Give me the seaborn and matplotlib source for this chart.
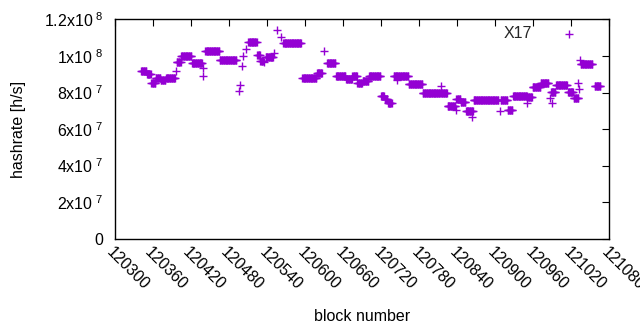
# hashrate per block for X17, gnuplot-style scatter redone in seaborn
import numpy as np
import pandas as pd
import matplotlib
matplotlib.use("Agg")
import matplotlib.pyplot as plt
import seaborn as sns

# ----------------------------------------------
# data (hashrate in 1e7 h/s)
# runs of consecutive blocks sharing one estimate
# ----------------------------------------------
run_start = [120342, 120351, 120358, 120365, 120373, 120381, 120398, 120405,
             120422, 120443, 120466, 120511, 120525, 120530, 120538, 120566,
             120596, 120619, 120635, 120649, 120665, 120675, 120683, 120691,
             120701, 120720, 120726, 120731, 120740, 120764, 120786, 120815,
             120825, 120839, 120846, 120854, 120866, 120909, 120920, 120928,
             120951, 120959, 120972, 120988, 120996, 121015, 121024, 121035,
             121057]
run_end = [120350, 120357, 120364, 120372, 120380, 120395, 120404, 120421,
           120438, 120465, 120492, 120524, 120529, 120534, 120550, 120594,
           120618, 120627, 120648, 120664, 120674, 120682, 120690, 120700,
           120719, 120725, 120730, 120737, 120763, 120785, 120813, 120824,
           120837, 120845, 120853, 120865, 120905, 120919, 120927, 120950,
           120958, 120971, 120984, 120995, 121013, 121023, 121031, 121053,
           121066]
run_rate = [9.17, 9.00, 8.50, 8.78, 8.68, 8.78, 9.69, 9.98,
            9.62, 10.26, 9.78, 10.78, 10.05, 9.74, 9.96, 10.71,
            8.78, 9.09, 9.60, 8.92, 8.72, 8.90, 8.50, 8.65,
            8.88, 7.80, 7.65, 7.41, 8.90, 8.45, 7.95, 7.96,
            7.25, 7.63, 7.48, 6.98, 7.59, 7.59, 7.04, 7.82,
            7.74, 8.32, 8.50, 8.05, 8.41, 8.01, 7.68, 9.56,
            8.34]

# isolated blocks
single_block = [120397, 120439, 120440, 120496, 120497, 120501, 120503, 120508,
                120535, 120551, 120556, 120562, 120630, 120746, 120814, 120838,
                120864, 120907, 120951, 120986, 120990, 121031, 121032, 121034]
single_rate = [9.18, 8.89, 9.33, 8.08, 8.43, 9.47, 10.00, 10.37,
               9.65, 10.15, 11.42, 11.06, 10.27, 8.68, 8.34, 7.04,
               6.67, 7.00, 7.41, 7.70, 7.40, 8.54, 8.20, 9.78]

y_ticks = [0, 2e7, 4e7, 6e7, 8e7, 1e8, 1.2e8]
y_labels = ["0", r"2x10$^{\ 7}$", r"4x10$^{\ 7}$", r"6x10$^{\ 7}$",
            r"8x10$^{\ 7}$", r"1x10$^{\ 8}$", r"1.2x10$^{\ 8}$"]
x_ticks = list(range(120300, 121081, 60))

# ----------------------------------------------
# build the table
# ----------------------------------------------
blocks, rates = [], []
for s, e, r in zip(run_start, run_end, run_rate):
    n = e - s + 1
    blocks.append(np.arange(s, e + 1))
    rates.append(np.repeat(r, n))
blocks.append(np.array(single_block))
rates.append(np.array(single_rate))

df = pd.DataFrame({"block": np.concatenate(blocks),
                   "hashrate": np.concatenate(rates) * 1e7})
df = df.sort_values("block")

# ----------------------------------------------
# plot
# ----------------------------------------------
sns.set_theme(style="white")
plt.rcParams["font.family"] = ["Liberation Sans", "DejaVu Sans"]
plt.rcParams["mathtext.fontset"] = "custom"
plt.rcParams["mathtext.rm"] = "Liberation Sans"

fig = plt.figure(figsize=(6.4, 3.3), dpi=100)
ax = fig.add_axes([0.179, 0.277, 0.773, 0.664])

sns.scatterplot(data=df, x="block", y="hashrate", marker="+", s=40,
                color="#9400D3", linewidth=1.0, label="X17", ax=ax)

ax.set_xlim(120300, 121080)
ax.set_ylim(0, 1.2e8)
ax.set_xticks(x_ticks)
ax.set_xticklabels([str(t) for t in x_ticks], rotation=-45, ha="left",
                   va="top", rotation_mode="anchor")
ax.set_yticks(y_ticks)
ax.set_yticklabels(y_labels)
ax.tick_params(axis="y", pad=8)
ax.tick_params(axis="x", pad=4)
ax.tick_params(direction="in", top=True, right=True, length=5, width=0.8,
               labelsize=11.5, color="black", labelcolor="black")
for sp in ax.spines.values():
    sp.set_color("black")
    sp.set_linewidth(1.0)

ax.set_xlabel("block number", fontsize=11.5, color="black", labelpad=12)
ax.set_ylabel("hashrate [h/s]", fontsize=11.5, color="black", labelpad=13)

ax.legend(loc="upper right", bbox_to_anchor=(0.964, 1.0), frameon=False,
          markerfirst=False, fontsize=11.5, handletextpad=1.3,
          borderaxespad=0.2, borderpad=0.2)

fig.savefig("out.png", dpi=100)
